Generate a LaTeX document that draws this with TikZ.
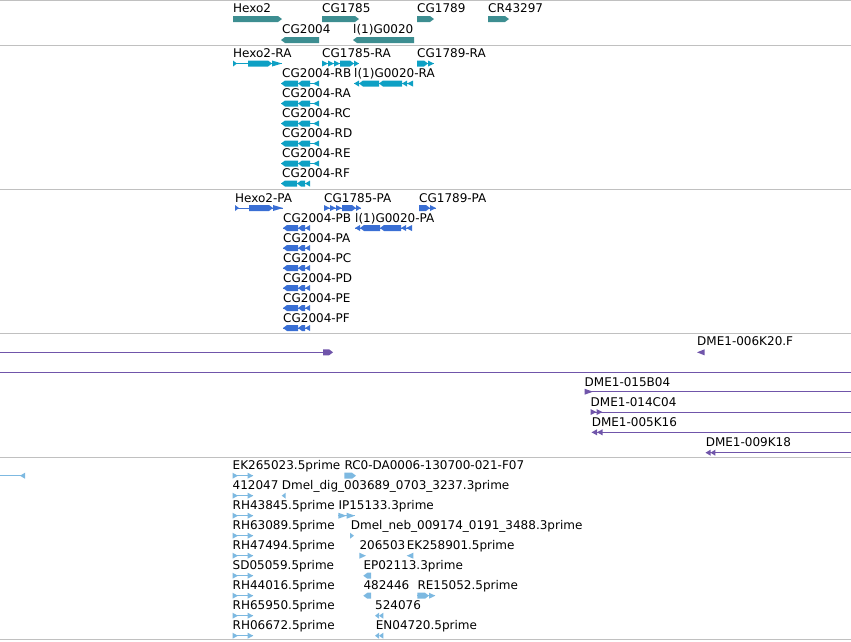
\documentclass[tikz,border=0pt]{standalone}
\usepackage{fontspec}
\setmainfont{DejaVu Sans}
\definecolor{sepc}{HTML}{C0C0C0}
\definecolor{genec}{HTML}{3D8E91}
\definecolor{trc}{HTML}{0EA0C4}
\definecolor{prc}{HTML}{3A6FD4}
\definecolor{purc}{HTML}{7055AA}
\definecolor{estc}{HTML}{7DB9E1}
% right/left pentagon, right/left triangle, thin line: {colour}{x1}{x2}{y}
\newcommand\fRP[4]{\fill[#1] (#2,#4-3) -- (#3-4,#4-3) -- (#3,#4) -- (#3-4,#4+3) -- (#2,#4+3) -- cycle;}
\newcommand\fLP[4]{\fill[#1] (#3,#4-3) -- (#2+4,#4-3) -- (#2,#4) -- (#2+4,#4+3) -- (#3,#4+3) -- cycle;}
\newcommand\fRT[4]{\fill[#1] (#2,#4-3) -- (#3,#4) -- (#2,#4+3) -- cycle;}
\newcommand\fLT[4]{\fill[#1] (#3,#4-3) -- (#2,#4) -- (#3,#4+3) -- cycle;}
\newcommand\fLN[4]{\draw[#1,line width=1pt] (#2,#4) -- (#3,#4);}
% CG2004-style left chains
\newcommand\cgL[3]{\fLN{#1}{#2}{#2+38}{#3}\fLP{#1}{#2}{#2+17}{#3}\fLP{#1}{#2+17}{#2+29}{#3}\fLT{#1}{#2+32}{#2+38}{#3}}
\newcommand\cgS[3]{\fLN{#1}{#2}{#2+27}{#3}\fLP{#1}{#2}{#2+15}{#3}\fLP{#1}{#2+15}{#2+22}{#3}\fLT{#1}{#2+22}{#2+27}{#3}}
\tikzset{
  lab/.style={anchor=base west, inner sep=0pt, font=\fontsize{12}{14}\selectfont, text=black},
  sep/.style={draw=sepc, line width=1pt}
}
\begin{document}
\begin{tikzpicture}[x=1pt,y=-1pt]
\useasboundingbox (0,0) rectangle (851,641);
% separators
\draw[sep] (0,0.5) -- (851,0.5);
\draw[sep] (0,45) -- (851,45);
\draw[sep] (0,189) -- (851,189);
\draw[sep] (0,333.3) -- (851,333.3);
\draw[sep] (0,457) -- (851,457);
\draw[sep] (0,639.5) -- (851,639.5);
% ---- genes
\node[lab] (g1) at (233,12.5) {Hexo2};
\node[lab] (g2) at (322,12.5) {CG1785};
\node[lab] (g3) at (417,12.5) {CG1789};
\node[lab] (g4) at (488,12.5) {CR43297};
\node[lab] (g5) at (282,33.3) {CG2004};
\node[lab] (g6) at (353,33.3) {l(1)G0020};
\fRP{genec}{233}{282}{19}
\fRP{genec}{322}{359}{19}
\fRP{genec}{417}{434}{19}
\fRP{genec}{488}{509}{19}
\fLP{genec}{281}{319}{40}
\fLP{genec}{353}{414}{40}
% ---- transcripts
\node[lab] (t1) at (233,57.5) {Hexo2-RA};
\node[lab] (t2) at (322,57.5) {CG1785-RA};
\node[lab] (t3) at (417,57.5) {CG1789-RA};
\node[lab] (t4) at (282,77.5) {CG2004-RB};
\node[lab] (t5) at (354,77.5) {l(1)G0020-RA};
\node[lab] (t6) at (282,97.5) {CG2004-RA};
\node[lab] (t7) at (282,117.5) {CG2004-RC};
\node[lab] (t8) at (282,137.5) {CG2004-RD};
\node[lab] (t9) at (282,157.5) {CG2004-RE};
\node[lab] (t10) at (282,177.5) {CG2004-RF};
\fLN{trc}{233}{282}{63.5}\fRT{trc}{233}{237}{63.5}\fRP{trc}{248}{272}{63.5}\fRT{trc}{272}{282}{63.5}
\fLN{trc}{322}{359}{63.5}\fRT{trc}{322}{328}{63.5}\fRT{trc}{328}{334}{63.5}\fRT{trc}{334}{340}{63.5}\fRP{trc}{340}{354}{63.5}\fRT{trc}{354}{359}{63.5}
\fLN{trc}{417}{434}{63.5}\fRP{trc}{417}{428}{63.5}\fRT{trc}{428}{434}{63.5}
\cgL{trc}{281}{83.5}
\fLN{trc}{354}{413}{83.5}\fLT{trc}{354}{359}{83.5}\fLP{trc}{359}{379}{83.5}\fLP{trc}{379}{402}{83.5}\fLT{trc}{402}{407}{83.5}\fLT{trc}{407}{413}{83.5}
\cgL{trc}{281}{103.5}
\cgL{trc}{281}{123.5}
\cgL{trc}{281}{143.5}
\cgL{trc}{281}{163.5}
\fLN{trc}{281}{310}{183.5}\fLP{trc}{281}{297}{183.5}\fLP{trc}{297}{305}{183.5}\fLT{trc}{305}{310}{183.5}
% ---- proteins
\node[lab] (p1) at (235,202) {Hexo2-PA};
\node[lab] (p2) at (324,202) {CG1785-PA};
\node[lab] (p3) at (419,202) {CG1789-PA};
\node[lab] (p4) at (283,222) {CG2004-PB};
\node[lab] (p5) at (355,222) {l(1)G0020-PA};
\node[lab] (p6) at (283,242) {CG2004-PA};
\node[lab] (p7) at (283,262) {CG2004-PC};
\node[lab] (p8) at (283,282) {CG2004-PD};
\node[lab] (p9) at (283,302) {CG2004-PE};
\node[lab] (p10) at (283,322) {CG2004-PF};
\fLN{prc}{235}{283}{208}\fRT{prc}{235}{239}{208}\fRP{prc}{249}{273}{208}\fRT{prc}{273}{283}{208}
\fLN{prc}{324}{361}{208}\fRT{prc}{324}{330}{208}\fRT{prc}{330}{336}{208}\fRT{prc}{336}{342}{208}\fRP{prc}{342}{356}{208}\fRT{prc}{356}{361}{208}
\fLN{prc}{419}{436}{208}\fRP{prc}{419}{430}{208}\fRT{prc}{430}{436}{208}
\cgS{prc}{283}{228}
\fLN{prc}{355}{412}{228}\fLT{prc}{355}{360}{228}\fLP{prc}{360}{380}{228}\fLP{prc}{380}{401}{228}\fLT{prc}{401}{406}{228}\fLT{prc}{406}{412}{228}
\cgS{prc}{283}{248}
\cgS{prc}{283}{268}
\cgS{prc}{283}{288}
\cgS{prc}{283}{308}
\cgS{prc}{283}{328}
% ---- clones (purple)
\fLN{purc}{0}{323}{352.3}\fRP{purc}{323}{333}{352.3}
\node[lab] (c1) at (697,345.5) {DME1-006K20.F};
\fLT{purc}{697}{704.5}{352.3}
\fLN{purc}{0}{851}{372.3}
\node[lab] (c2) at (584.5,386) {DME1-015B04};
\fLN{purc}{584.5}{851}{391.7}\fRT{purc}{584.5}{593}{391.7}
\node[lab] (c3) at (590.5,406) {DME1-014C04};
\fLN{purc}{590.5}{851}{412}\fRT{purc}{590.5}{596.5}{412}\fRT{purc}{596.5}{602.5}{412}
\node[lab] (c4) at (591.6,426) {DME1-005K16};
\fLN{purc}{591.6}{851}{432.3}\fLT{purc}{591.6}{597}{432.3}\fLT{purc}{597}{602.5}{432.3}
\node[lab] (c5) at (705.6,446) {DME1-009K18};
\fLN{purc}{705.6}{851}{452.7}\fLT{purc}{705.6}{710.5}{452.7}\fLT{purc}{710.5}{715.3}{452.7}
% ---- ESTs (light blue)
\fLN{estc}{0}{25}{475.7}\fLT{estc}{20}{25}{475.7}
\node[lab] (e1) at (232.5,469.3) {EK265023.5prime};
\node[lab] (e2) at (232.5,489.3) {412047};
\node[lab] (e3) at (232.5,509.3) {RH43845.5prime};
\node[lab] (e4) at (232.5,529.3) {RH63089.5prime};
\node[lab] (e5) at (232.5,549.3) {RH47494.5prime};
\node[lab] (e6) at (232.5,569.3) {SD05059.5prime};
\node[lab] (e7) at (232.5,589.3) {RH44016.5prime};
\node[lab] (e8) at (232.5,609.3) {RH65950.5prime};
\node[lab] (e9) at (232.5,629.3) {RH06672.5prime};
\foreach \yy in {475.7,495.7,...,635.7}{
  \fLN{estc}{232.5}{253.3}{\yy}\fRT{estc}{232.5}{238}{\yy}\fRT{estc}{247.5}{253.3}{\yy}
}
\node[lab] (f1) at (344.3,469.3) {RC0-DA0006-130700-021-F07};
\fRP{estc}{344.3}{356}{475.7}
\node[lab] (f2) at (281.7,489.3) {Dmel\_dig\_003689\_0703\_3237.3prime};
\fLT{estc}{281.7}{285.7}{495.7}
\node[lab] (f3) at (338.3,509.3) {IP15133.3prime};
\fLN{estc}{338.3}{355}{515.7}\fRT{estc}{338.3}{346.5}{515.7}\fRT{estc}{346.5}{355}{515.7}
\node[lab] (f4) at (350.7,529.3) {Dmel\_neb\_009174\_0191\_3488.3prime};
\fRT{estc}{350}{354}{535.7}
\node[lab] (f5) at (359.3,549.3) {206503};
\fRT{estc}{359.3}{366}{555.7}
\node[lab] (f6) at (406.7,549.3) {EK258901.5prime};
\fLT{estc}{406.7}{413.3}{555.7}
\node[lab] (f7) at (363.3,569.3) {EP02113.3prime};
\fLP{estc}{363.3}{371}{575.7}
\node[lab] (f8) at (363.3,589.3) {482446};
\fLP{estc}{363.3}{371}{595.7}
\node[lab] (f9) at (417.3,589.3) {RE15052.5prime};
\fLN{estc}{417.3}{435.3}{595.7}\fRP{estc}{417.3}{429}{595.7}\fRT{estc}{429}{435.3}{595.7}
\node[lab] (f10) at (375,609.3) {524076};
\fLT{estc}{375}{379}{615.7}\fLT{estc}{379}{383.3}{615.7}
\node[lab] (f11) at (375.7,629.3) {EN04720.5prime};
\fLT{estc}{375}{379}{635.7}\fLT{estc}{379}{383.3}{635.7}
\end{tikzpicture}
\end{document}
